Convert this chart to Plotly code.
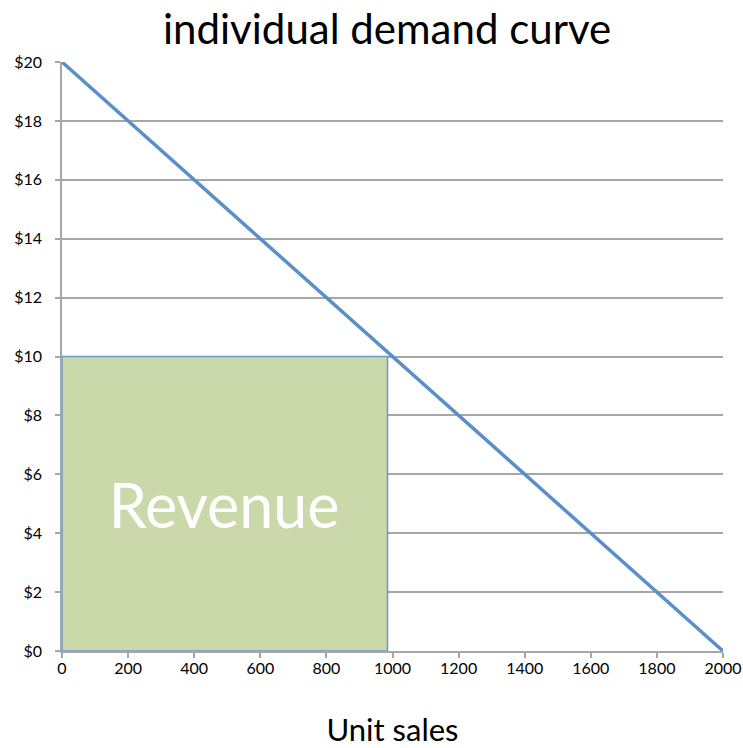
import plotly.graph_objects as go

demand_qty = [0, 2000]
demand_price = [20, 0]
revenue_qty = 985
revenue_price = 10
x_ticks = list(range(0, 2001, 200))
y_ticks = list(range(0, 21, 2))
y_labels = [f"${v}" for v in y_ticks]

fig = go.Figure()
fig.add_trace(go.Scatter(
    x=[0, revenue_qty, revenue_qty, 0, 0],
    y=[0, 0, revenue_price, revenue_price, 0],
    fill="toself", fillcolor="#cbd8a9",
    line=dict(color="#6a98c8", width=1.5),
    mode="lines", hoverinfo="skip", showlegend=False))
fig.add_trace(go.Scatter(
    x=demand_qty, y=demand_price, mode="lines",
    line=dict(color="#5b8fc8", width=3.5), showlegend=False))
fig.add_trace(go.Scatter(
    x=[revenue_qty / 2 - 2], y=[revenue_price * 0.47], mode="text",
    text=["Revenue"], textfont=dict(family="Lato, Open Sans, sans-serif", size=61, color="white"),
    showlegend=False, hoverinfo="skip"))

fig.update_layout(
    width=743, height=748,
    margin=dict(l=62, r=20, t=62, b=97),
    paper_bgcolor="white", plot_bgcolor="white",
    font=dict(family="Lato, Open Sans, sans-serif", color="black"),
    title=dict(text="individual demand curve", x=0.521, xanchor="center",
               y=0.98, yanchor="top", font=dict(size=42, color="black")),
    xaxis=dict(range=[0, 2000], tickvals=x_ticks, showgrid=False, automargin=False,
               showline=True, linecolor="#a6a6a6", linewidth=1.5,
               ticks="outside", ticklen=5, tickcolor="#a6a6a6", tickwidth=1.5,
               ticklabelstandoff=-3,
               tickfont=dict(size=16, color="black"),
               title=dict(text="Unit sales", font=dict(size=31, color="black"), standoff=57),
               zeroline=False),
    yaxis=dict(range=[0, 20], tickvals=y_ticks, ticktext=y_labels, automargin=False,
               showgrid=True, gridcolor="#a6a6a6", gridwidth=1.5,
               showline=True, linecolor="#a6a6a6", linewidth=1.5,
               ticks="outside", ticklen=5, tickcolor="#a6a6a6", tickwidth=1.5,
               ticklabelstandoff=10,
               tickfont=dict(size=16, color="black"), zeroline=False),
)
fig.write_html("out.html", config={"displayModeBar": False},
               post_script="document.body.style.margin='0';document.body.style.overflow='hidden';")
